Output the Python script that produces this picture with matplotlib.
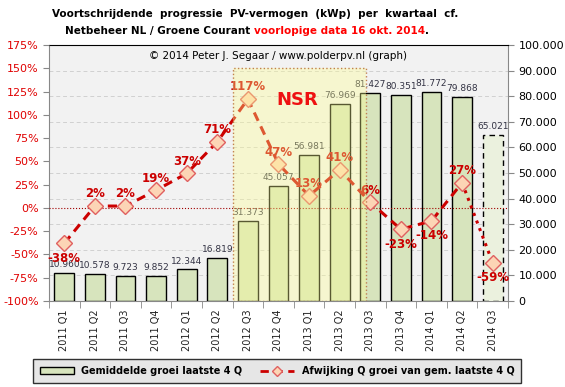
import numpy as np
import matplotlib.pyplot as plt
from matplotlib.patches import Rectangle, Patch
from matplotlib.lines import Line2D

quarters = ["2011 Q1", "2011 Q2", "2011 Q3", "2011 Q4",
            "2012 Q1", "2012 Q2", "2012 Q3", "2012 Q4",
            "2013 Q1", "2013 Q2", "2013 Q3", "2013 Q4",
            "2014 Q1", "2014 Q2", "2014 Q3"]
# average growth last 4 quarters (kWp), last one provisional
avg_growth = [10960, 10578, 9723, 9852, 12344, 16819, 31373, 45057,
              56981, 76969, 81427, 80351, 81772, 79868, 65021]
# deviation of quarterly growth from that average (%)
deviation = [-38, 2, 2, 19, 37, 71, 117, 47, 13, 41, 6, -23, -14, 27, -59]

red = "#cc0000"
x = np.arange(len(quarters))

fig = plt.figure(figsize=(5.65, 3.87), dpi=100)
ax = fig.add_axes([49/565, 86/387, 459/565, 256/387])
ax2 = ax.twinx()
ax.set_facecolor("#f2f2f2")

# bars (right axis values)
ax.bar(x[:-1], avg_growth[:-1], width=0.65, color="#d7e4bd",
       edgecolor="black", linewidth=1.0, zorder=3)
ax.bar(x[-1], avg_growth[-1], width=0.65, color="#ebf1de",
       edgecolor="black", linewidth=1.0, linestyle=(0, (4, 3)), zorder=3)
for xi, v in zip(x, avg_growth):
    ax.text(xi, v + 1500, f"{v:,}".replace(",", "."), ha="center", va="bottom",
            fontsize=6.5, color="#333344", zorder=4)

ax.set_ylim(0, 100000)
ax.set_xlim(-0.5, len(x) - 0.5)
ax.set_yticks(np.arange(0, 100001, 10000))
ax.set_yticklabels(["0"] + [f"{v:,}".replace(",", ".") for v in range(10000, 100001, 10000)])
ax.yaxis.tick_right()
ax.yaxis.grid(True, color="#d0d0d0", linestyle=(0, (4, 3)), linewidth=0.7, zorder=0)
ax.set_axisbelow(True)
ax.tick_params(axis="y", labelsize=8, colors="#888888", labelcolor="black", length=4)
ax.set_xticks(x)
ax.set_xticklabels(quarters, rotation=90, fontsize=7, color="#222222")
ax.set_xticks(np.arange(-0.5, len(x), 1), minor=True)
ax.tick_params(axis="x", which="major", length=0, pad=6)
ax.tick_params(axis="x", which="minor", length=5, color="#888888")
for s in ["left", "right", "bottom"]:
    ax.spines[s].set_color("#888888")
ax.spines["top"].set_color("black")

# percentage line (left axis)
ax2.set_ylim(-100, 175)
ax2.set_yticks(np.arange(-100, 176, 25))
ax2.set_yticklabels([f"{v}%" for v in range(-100, 176, 25)])
ax2.yaxis.tick_left()
ax2.tick_params(axis="y", labelsize=8, colors="#888888", labelcolor="#e00000", length=4)
for s in ax2.spines.values():
    s.set_visible(False)
ax2.axhline(0, color="#a00000", linestyle=":", linewidth=0.8, zorder=2)

ax2.plot(x[:-1], deviation[:-1], color=red, linestyle=(0, (3, 2)), linewidth=2.2, zorder=5)
ax2.plot(x[-2:], deviation[-2:], color=red, linestyle=":", linewidth=2.2, zorder=5)
ax2.plot(x, deviation, linestyle="none", marker="D", markersize=8,
         markerfacecolor="#fcd5b5", markeredgecolor="#e06060", markeredgewidth=1, zorder=6)
for xi, d in zip(x, deviation):
    off = 13 if d >= 0 else -16
    ax2.text(xi, d + off, f"{d}%", ha="center", va="center", fontsize=8.5,
             fontweight="bold", color=red, zorder=7)

# NSR period overlay
ax2.add_patch(Rectangle((5.5, -100), 4.35, 250, facecolor="#ffff90", alpha=0.35,
                        edgecolor="none", zorder=8))
ax2.add_patch(Rectangle((5.5, -100), 4.35, 250, facecolor="none", edgecolor="#c08050",
                        linestyle=":", linewidth=1, zorder=8))
ax2.text(0.54, 0.785, "NSR", transform=ax2.transAxes, ha="center", va="center",
         fontsize=13, fontweight="bold", color="#ee1111", zorder=9)

ax2.text(0.5, 1 - 11/256, "\u00a9 2014 Peter J. Segaar / www.polderpv.nl (graph)",
         transform=ax2.transAxes, ha="center", va="center", fontsize=7.5, color="black", zorder=9)

# title
tsize = 7.5
fig.text(255/565, 1 - 14/387, "Voortschrijdende  progressie  PV-vermogen  (kWp)  per  kwartaal  cf.",
         ha="center", va="center", fontsize=tsize, fontweight="bold")
t1 = fig.text(65/565, 1 - 31/387, "Netbeheer NL / Groene Courant ", ha="left", va="center",
              fontsize=tsize, fontweight="bold")
fig.canvas.draw()
x1 = t1.get_window_extent().x1 / fig.bbox.width
t2 = fig.text(x1, 1 - 31/387, "voorlopige data 16 okt. 2014", ha="left", va="center",
              fontsize=tsize, fontweight="bold", color="#ff0000")
fig.canvas.draw()
x2 = t2.get_window_extent().x1 / fig.bbox.width
fig.text(x2, 1 - 31/387, ".", ha="left", va="center", fontsize=tsize, fontweight="bold")

# legend
handles = [Patch(facecolor="#d7e4bd", edgecolor="black", linewidth=1),
           Line2D([0], [0], color=red, linestyle=(0, (3, 2)), linewidth=2,
                  marker="D", markersize=5, markerfacecolor="#fcd5b5", markeredgecolor="#e06060")]
labels = ["Gemiddelde groei laatste 4 Q", "Afwijking Q groei van gem. laatste 4 Q"]
leg = fig.legend(handles, labels, loc="center", ncol=2, bbox_to_anchor=(277/565, 1 - 371/387),
                 frameon=True, fancybox=False, facecolor="#e0e0e0",
                 edgecolor="black", handlelength=3.5, columnspacing=1.8, borderpad=0.7,
                 borderaxespad=0, prop={"weight": "bold", "size": 7})
leg.get_frame().set_linewidth(1)

fig.savefig("out.png", dpi=100)
